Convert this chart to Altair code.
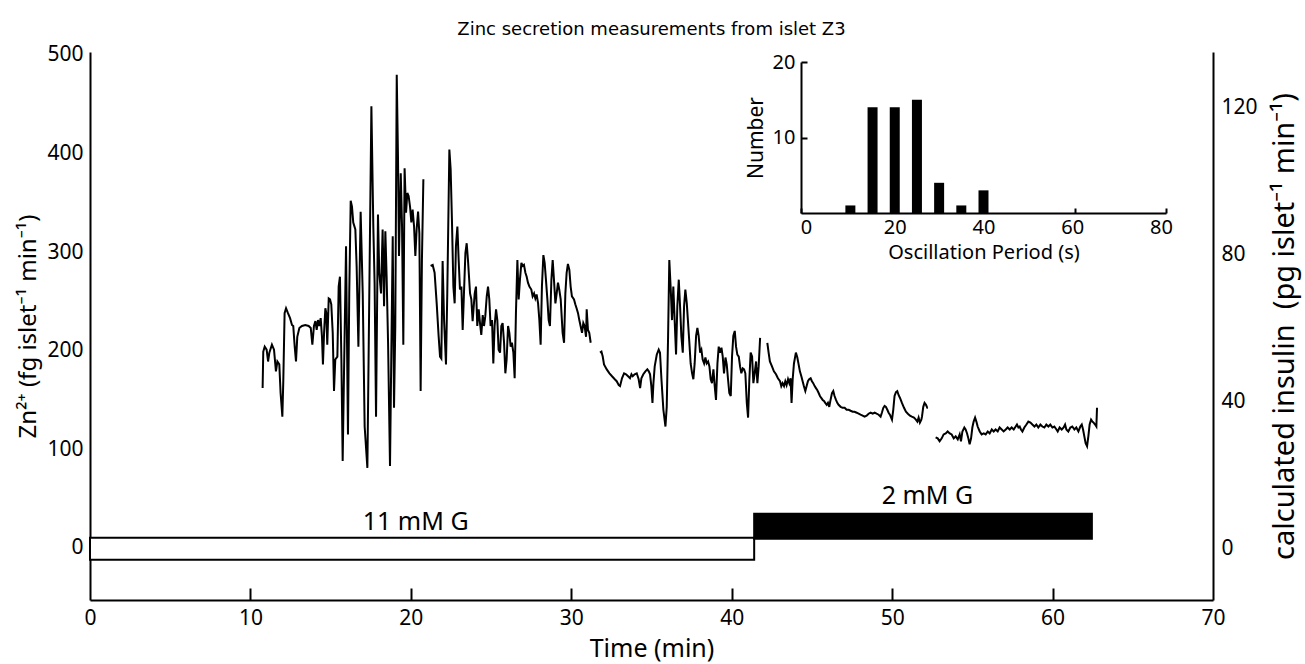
import altair as alt
import pandas as pd

# ---------------- data ----------------
# Zn2+ trace (fg islet^-1 min^-1) vs time (min), five recorded pieces
seg1_time = [10.76, 10.80, 10.89, 11.01, 11.10, 11.18, 11.34, 11.47, 11.59, 11.68,
             11.80, 11.88, 11.99, 12.05, 12.13, 12.22, 12.34, 12.47, 12.59, 12.67,
             12.76, 12.84, 12.92, 13.05, 13.21, 13.42, 13.63, 13.76, 13.86, 13.96,
             14.05, 14.13, 14.21, 14.29, 14.38, 14.46, 14.52, 14.59, 14.67, 14.73,
             14.79, 14.88, 14.96, 15.04, 15.13, 15.21, 15.29, 15.42, 15.50, 15.58,
             15.67, 15.75, 15.83, 15.96, 16.08, 16.16, 16.25, 16.33, 16.41, 16.54,
             16.62, 16.73, 16.87, 17.00, 17.12, 17.29, 17.41, 17.54, 17.66, 17.74,
             17.83, 17.95, 18.03, 18.14, 18.24, 18.33, 18.41, 18.49, 18.58, 18.70,
             18.78, 18.87, 18.95, 19.03, 19.12, 19.20, 19.26, 19.37, 19.45, 19.53,
             19.61, 19.70, 19.78, 19.86, 19.95, 20.03, 20.11, 20.20, 20.28, 20.36,
             20.45, 20.53, 20.61, 20.69, 20.78]
seg1_zn = [162, 199, 204, 201, 189, 198, 206, 201, 179, 189,
           186, 157, 133, 170, 238, 243, 238, 233, 226, 225,
           204, 189, 214, 223, 225, 226, 225, 223, 206, 225,
           230, 221, 231, 225, 233, 214, 186, 218, 243, 238,
           206, 253, 252, 247, 218, 159, 191, 194, 265, 275,
           191, 88, 174, 306, 115, 258, 352, 346, 330, 323,
           286, 204, 341, 258, 123, 81, 258, 448, 326, 269,
           133, 338, 279, 258, 323, 245, 321, 275, 208, 83,
           194, 316, 142, 225, 480, 394, 296, 380, 326, 206,
           385, 340, 360, 357, 346, 330, 343, 326, 296, 323,
           341, 319, 159, 292, 374]

seg2_time = [21.23, 21.36, 21.48, 21.61, 21.73, 21.82, 21.90, 21.98, 22.07, 22.19,
             22.27, 22.40, 22.48, 22.56, 22.65, 22.73, 22.81, 22.90, 22.98, 23.06,
             23.15, 23.23, 23.31, 23.40, 23.48, 23.56, 23.69, 23.77, 23.85, 23.98,
             24.06, 24.14, 24.23, 24.31, 24.39, 24.48, 24.56, 24.64, 24.73, 24.81,
             24.89, 24.97, 25.06, 25.14, 25.22, 25.31, 25.39, 25.47, 25.56, 25.64,
             25.72, 25.81, 25.89, 25.97, 26.06, 26.14, 26.22, 26.30, 26.39, 26.47,
             26.55, 26.64, 26.72, 26.80, 26.89, 26.97, 27.05, 27.14, 27.22, 27.30,
             27.39, 27.51, 27.59, 27.68, 27.76, 27.84, 27.93, 28.01, 28.09, 28.17,
             28.26, 28.34, 28.42, 28.51, 28.59, 28.67, 28.76, 28.84, 28.92, 29.01,
             29.09, 29.17, 29.25, 29.34, 29.46, 29.55, 29.63, 29.71, 29.79, 29.88,
             29.96, 30.04, 30.17, 30.25, 30.33, 30.42, 30.50, 30.58, 30.67, 30.75,
             30.83, 30.92, 30.96, 31.04, 31.12, 31.21]
seg2_zn = [286, 287, 279, 248, 215, 194, 192, 291, 231, 186,
           258, 404, 384, 333, 265, 248, 306, 326, 292, 262,
           265, 221, 258, 299, 309, 292, 258, 252, 230, 258,
           265, 225, 242, 228, 216, 236, 225, 235, 255, 265,
           252, 225, 231, 187, 225, 242, 231, 201, 198, 225,
           228, 208, 177, 191, 225, 218, 204, 208, 198, 172,
           238, 292, 252, 272, 289, 286, 287, 279, 275, 269,
           265, 262, 255, 258, 253, 257, 248, 231, 206, 265,
           297, 289, 272, 252, 231, 225, 272, 292, 272, 248,
           258, 269, 262, 252, 218, 208, 258, 279, 288, 282,
           265, 255, 252, 247, 243, 238, 231, 225, 218, 228,
           225, 214, 242, 221, 218, 208]

seg3_time = [31.79, 31.88, 31.96, 32.04, 32.21, 32.38, 32.54, 32.71, 32.83, 32.96,
             33.04, 33.16, 33.29, 33.41, 33.54, 33.66, 33.75, 33.83, 33.95, 34.08,
             34.20, 34.29, 34.37, 34.49, 34.62, 34.74, 34.83, 34.91, 34.99, 35.06,
             35.12, 35.20, 35.33, 35.45, 35.53, 35.62, 35.74, 35.87, 35.95, 36.03,
             36.11, 36.20, 36.28, 36.36, 36.45, 36.53, 36.61, 36.70, 36.78, 36.86,
             36.95, 37.03, 37.11, 37.20, 37.28, 37.36, 37.44, 37.53, 37.61, 37.69,
             37.78, 37.86, 37.94, 38.03, 38.11, 38.19, 38.28, 38.36, 38.44, 38.53,
             38.61, 38.69, 38.77, 38.86, 38.94, 39.02, 39.11, 39.19, 39.27, 39.36,
             39.44, 39.52, 39.61, 39.69, 39.77, 39.85, 39.94, 40.02, 40.10, 40.19,
             40.27, 40.35, 40.44, 40.52, 40.60, 40.69, 40.77, 40.85, 40.94, 41.02,
             41.10, 41.18, 41.27, 41.35, 41.43, 41.52, 41.60, 41.68, 41.77]
seg3_zn = [198, 199, 194, 186, 181, 177, 174, 171, 169, 165,
           164, 172, 177, 176, 174, 172, 176, 174, 176, 177,
           171, 162, 172, 176, 179, 181, 179, 176, 164, 147,
           167, 184, 196, 201, 198, 171, 140, 123, 143, 211,
           292, 262, 231, 265, 228, 196, 245, 272, 245, 215,
           198, 245, 262, 248, 228, 208, 187, 177, 171, 187,
           215, 223, 215, 198, 201, 191, 187, 193, 187, 189,
           184, 171, 167, 181, 164, 150, 187, 204, 198, 203,
           194, 177, 193, 186, 171, 157, 154, 194, 215, 220,
           204, 196, 194, 184, 177, 182, 181, 177, 147, 132,
           171, 198, 194, 167, 177, 189, 167, 184, 213]

seg4_time = [42.22, 42.30, 42.38, 42.51, 42.63, 42.76, 42.88, 43.01, 43.09, 43.17,
             43.26, 43.34, 43.42, 43.51, 43.59, 43.67, 43.73, 43.80, 43.88, 44.00,
             44.09, 44.17, 44.25, 44.34, 44.42, 44.50, 44.59, 44.67, 44.75, 44.83,
             44.92, 45.00, 45.08, 45.17, 45.25, 45.33, 45.42, 45.50, 45.58, 45.67,
             45.75, 45.83, 45.92, 46.00, 46.08, 46.16, 46.25, 46.33, 46.41, 46.50,
             46.58, 46.66, 46.79, 46.91, 47.04, 47.16, 47.29, 47.41, 47.54, 47.66,
             47.79, 47.91, 48.03, 48.16, 48.28, 48.41, 48.53, 48.66, 48.78, 48.91,
             49.03, 49.16, 49.28, 49.36, 49.45, 49.53, 49.61, 49.70, 49.78, 49.86,
             49.99, 50.07, 50.15, 50.24, 50.32, 50.40, 50.49, 50.61, 50.74, 50.86,
             50.98, 51.11, 51.23, 51.36, 51.48, 51.57, 51.65, 51.73, 51.82, 51.86,
             51.94, 52.02, 52.11, 52.19, 52.23]
seg4_zn = [208, 198, 189, 184, 179, 176, 172, 169, 164, 167,
           164, 169, 165, 171, 167, 172, 147, 171, 187, 198,
           193, 186, 179, 174, 169, 164, 159, 164, 169, 171,
           172, 169, 167, 164, 162, 160, 157, 154, 152, 150,
           149, 147, 145, 147, 143, 150, 157, 159, 154, 150,
           147, 145, 143, 142, 142, 140, 140, 139, 138, 138,
           137, 136, 135, 134, 133, 134, 136, 137, 136, 137,
           136, 135, 133, 137, 142, 144, 143, 140, 137, 135,
           130, 140, 154, 158, 159, 155, 152, 147, 142, 138,
           136, 134, 133, 132, 130, 128, 132, 127, 130, 133,
           143, 147, 145, 142, 142]

seg5_time = [52.71, 52.84, 52.96, 53.09, 53.21, 53.34, 53.46, 53.59, 53.71, 53.84,
             53.96, 54.09, 54.21, 54.29, 54.38, 54.50, 54.58, 54.67, 54.75, 54.83,
             54.92, 55.00, 55.08, 55.17, 55.25, 55.33, 55.46, 55.58, 55.71, 55.83,
             55.96, 56.08, 56.21, 56.33, 56.45, 56.58, 56.70, 56.83, 56.95, 57.08,
             57.20, 57.33, 57.45, 57.58, 57.70, 57.78, 57.87, 57.95, 58.03, 58.12,
             58.24, 58.37, 58.49, 58.62, 58.74, 58.87, 58.99, 59.11, 59.24, 59.36,
             59.49, 59.61, 59.74, 59.86, 59.99, 60.11, 60.24, 60.32, 60.44, 60.57,
             60.69, 60.78, 60.86, 60.98, 61.11, 61.23, 61.36, 61.48, 61.61, 61.73,
             61.82, 61.90, 61.98, 62.06, 62.15, 62.23, 62.31, 62.40, 62.48, 62.56,
             62.65, 62.73, 62.77]
seg5_zn = [112, 111, 108, 111, 115, 116, 118, 116, 115, 111,
           113, 110, 115, 108, 118, 122, 120, 116, 111, 105,
           111, 122, 128, 132, 128, 123, 118, 115, 116, 115,
           118, 116, 120, 118, 120, 118, 122, 120, 118, 120,
           122, 120, 122, 120, 123, 125, 122, 123, 120, 118,
           122, 125, 128, 127, 125, 123, 125, 122, 125, 123,
           122, 125, 123, 125, 122, 123, 120, 118, 122, 120,
           122, 125, 120, 118, 122, 123, 120, 122, 118, 123,
           125, 120, 113, 106, 103, 113, 125, 130, 128, 127,
           125, 123, 142]

# glucose steps (min) and their labels
step_start = [0.0, 41.4]
step_end = [41.4, 62.45]
step_low = [-12.2, 9.1]
step_high = [10.2, 34.5]
step_fill = ["white", "black"]
step_label = ["11 mM G", "2 mM G"]
step_label_time = [20.3, 52.2]
step_label_zn = [26, 53]

# axis ticks
time_ticks = [0, 10, 20, 30, 40, 50, 60, 70]
time_inner_ticks = [10, 20, 30, 40, 50, 60]
zn_ticks = [0, 100, 200, 300, 400, 500]
insulin_ticks = [0, 40, 80, 120]

# inset histogram
period_s = [10, 15, 20, 25, 30, 35, 40]
period_count = [1, 14, 14, 15, 4, 1, 3]
period_ticks = [0, 20, 40, 60, 80]
count_ticks = [10, 20]

# ---------------- frames ----------------
rows = []
for k, (ts, vs) in enumerate(
        [(seg1_time, seg1_zn), (seg2_time, seg2_zn), (seg3_time, seg3_zn),
         (seg4_time, seg4_zn), (seg5_time, seg5_zn)], start=1):
    for t, v in zip(ts, vs):
        rows.append({"t": t, "zn": v, "seg": k})
trace_df = pd.DataFrame(rows)
step_df = pd.DataFrame({"t": step_start, "t_end": step_end, "zn": step_low,
                        "zn_hi": step_high, "fill": step_fill})
label_df = pd.DataFrame({"t": step_label_time, "zn": step_label_zn, "label": step_label})
inset_df = pd.DataFrame({"period": period_s, "count": period_count})

W, H = 1123, 548
TIME_DOMAIN = [0, 70]
ZN_DOMAIN = [-53, 503]
INS_DOMAIN = [-14.15, 135]
FONT = "Noto Sans"

# inset placement inside the plot area (pixels)
IN_X = [711, 1076]
IN_Y = [161, 10]

x_axis = alt.Axis(orient="bottom", values=time_ticks, ticks=False, labelFontSize=21,
                  labelPadding=7, labelFlush=False, labelOverlap=False,
                  title="Time (min)", titleFontSize=25, titlePadding=8)
y_axis = alt.Axis(orient="left", values=zn_ticks, ticks=False, labelFontSize=21,
                  labelPadding=7, labelOverlap=False,
                  title="Zn²⁺ (fg islet⁻¹ min⁻¹)", titleFontSize=24, titlePadding=6)
x_main = lambda f: alt.X(f, scale=alt.Scale(domain=TIME_DOMAIN, nice=False, zero=False), axis=x_axis)
y_main = lambda f: alt.Y(f, scale=alt.Scale(domain=ZN_DOMAIN, nice=False, zero=False), axis=y_axis)

line = alt.Chart(trace_df).mark_line(color="black", strokeWidth=2).encode(
    x=x_main("t:Q"), y=y_main("zn:Q"), detail="seg:N")

steps = alt.Chart(step_df).mark_rect(stroke="black", strokeWidth=2).encode(
    x=x_main("t:Q"), x2="t_end:Q", y=y_main("zn:Q"), y2="zn_hi:Q",
    fill=alt.Fill("fill:N", scale=None))

labels = alt.Chart(label_df).mark_text(font=FONT, fontSize=25, color="black").encode(
    x=x_main("t:Q"), y=y_main("zn:Q"), text="label:N")

main = alt.layer(steps, line, labels)

inner_ticks = alt.Chart(pd.DataFrame({"tick": time_inner_ticks})).mark_point(opacity=0).encode(
    x=alt.X("tick:Q", scale=alt.Scale(domain=TIME_DOMAIN, nice=False, zero=False),
            axis=alt.Axis(orient="top", offset=-H, values=time_inner_ticks, labels=False,
                          domain=False, ticks=True, tickSize=12, tickWidth=2,
                          tickColor="black", title=None)))

insulin = alt.Chart(pd.DataFrame({"ins": insulin_ticks})).mark_point(opacity=0).encode(
    y=alt.Y("ins:Q", scale=alt.Scale(domain=INS_DOMAIN, nice=False, zero=False),
            axis=alt.Axis(orient="right", values=insulin_ticks, ticks=False,
                          labelFontSize=21, labelPadding=8, labelOverlap=False,
                          title="calculated insulin \u00a0(pg islet⁻¹ min⁻¹)",
                          titleFontSize=29, titleAngle=270, titlePadding=42)))

inset_bars = alt.Chart(inset_df).mark_bar(color="black", size=10).encode(
    x=alt.X("period:Q", scale=alt.Scale(domain=[0, 80], range=IN_X, nice=False, zero=False),
            axis=alt.Axis(orient="bottom", offset=-(H - IN_Y[0]), values=period_ticks,
                          ticks=False, labelFontSize=20, labelPadding=4, labelFlush=False,
                          labelOverlap=False, title="Oscillation Period (s)",
                          titleFontSize=20, titlePadding=5)),
    y=alt.Y("count:Q", scale=alt.Scale(domain=[0, 20], range=IN_Y, nice=False),
            axis=alt.Axis(orient="left", offset=-IN_X[0], values=count_ticks, ticks=False,
                          labelFontSize=20, labelPadding=6, labelOverlap=False,
                          title="Number", titleFontSize=21, titlePadding=6)))

inset_xticks = alt.Chart(pd.DataFrame({"p": period_ticks})).mark_point(opacity=0).encode(
    x=alt.X("p:Q", scale=alt.Scale(domain=[0, 80], range=IN_X, nice=False, zero=False),
            axis=alt.Axis(orient="top", offset=-IN_Y[0], values=period_ticks, labels=False,
                          domain=False, ticks=True, tickSize=5, tickWidth=2,
                          tickColor="black", title=None)))

inset_yticks = alt.Chart(pd.DataFrame({"c": count_ticks})).mark_point(opacity=0).encode(
    y=alt.Y("c:Q", scale=alt.Scale(domain=[0, 20], range=IN_Y, nice=False),
            axis=alt.Axis(orient="right", offset=IN_X[0] - W, values=count_ticks, labels=False,
                          domain=False, ticks=True, tickSize=6, tickWidth=2,
                          tickColor="black", title=None)))

chart = alt.layer(
    main, inner_ticks, insulin, inset_bars, inset_xticks, inset_yticks
).resolve_scale(
    x="independent", y="independent"
).properties(
    width=W, height=H,
    title=alt.TitleParams("Zinc secretion measurements from islet Z3", font="DejaVu Sans",
                          fontSize=18, fontWeight="normal", color="black",
                          anchor="middle", frame="group", offset=5),
    padding={"left": 90, "top": 52, "right": 92, "bottom": 64},
    autosize=alt.AutoSizeParams(type="none"),
).configure_view(stroke=None).configure_axis(
    labelFont=FONT, titleFont=FONT, labelColor="black", titleColor="black",
    domainColor="black", domainWidth=2, grid=False, titleFontWeight="normal",
)

chart.save("out.html", embed_options={"renderer": "svg", "actions": False})
